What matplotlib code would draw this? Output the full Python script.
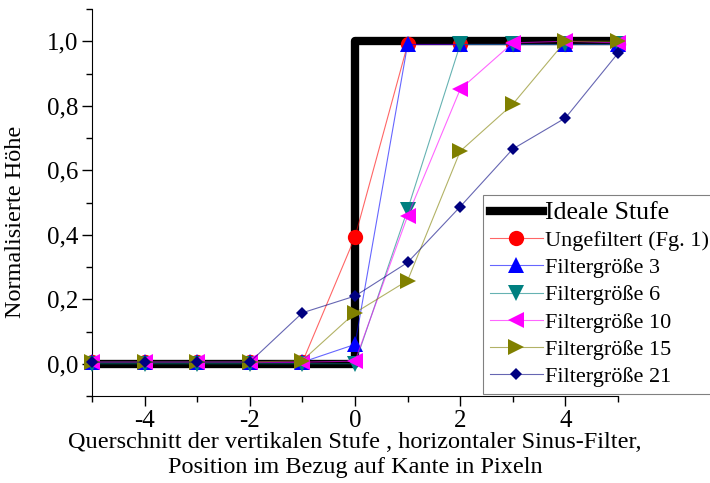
import matplotlib
matplotlib.use("Agg")
import matplotlib.pyplot as plt
from matplotlib.colors import to_rgba
from matplotlib.ticker import MultipleLocator, FuncFormatter

plt.rcParams['font.family'] = ['Liberation Serif', 'DejaVu Serif']

# Position relativ zur Kante (Pixel)
x = [-5, -4, -3, -2, -1, 0, 1, 2, 3, 4, 5]

# ideale Stufe
ideal_x = [-5, 0, 0, 5]
ideal_y = [0, 0, 1, 1]

ungefiltert = [0.005, 0.005, 0.005, 0.005, 0.005, 0.393, 0.99, 0.99, 0.99, 0.99, 0.99]
filter_3 = [0.005, 0.005, 0.005, 0.005, 0.005, 0.06, 0.99, 0.99, 0.99, 0.99, 0.99]
filter_6 = [0.0, 0.0, 0.0, 0.0, 0.0, 0.0, 0.478, 0.99, 0.99, 0.99, 0.99]
filter_10 = [0.005, 0.005, 0.005, 0.005, 0.005, 0.008, 0.458, 0.851, 0.995, 1.0, 0.995]
filter_15 = [0.005, 0.005, 0.005, 0.005, 0.01, 0.158, 0.258, 0.659, 0.805, 1.0, 1.0]
filter_21 = [0.005, 0.005, 0.005, 0.005, 0.158, 0.21, 0.314, 0.487, 0.666, 0.762, 0.963]

serien = [
    (ungefiltert, 'Ungefiltert (Fg. 1)', 'red', 'o', 11),
    (filter_3, 'Filtergröße 3', 'blue', '^', 12),
    (filter_6, 'Filtergröße 6', '#008080', 'v', 12),
    (filter_10, 'Filtergröße 10', 'magenta', '<', 12),
    (filter_15, 'Filtergröße 15', '#808000', '>', 12),
    (filter_21, 'Filtergröße 21', '#000080', 'D', 6),
]

fig = plt.figure(figsize=(7.10, 4.83), dpi=100)
ax = fig.add_axes([92 / 710, 1 - 396 / 483, 526 / 710, 387 / 483])

ax.plot(ideal_x, ideal_y, color='black', lw=6, solid_joinstyle='round',
        label='Ideale Stufe', clip_on=False, zorder=2)

for werte, name, farbe, marker, ms in serien:
    # dünne, etwas hellere Linie, Marker voll deckend
    ax.plot(x, werte, color=to_rgba(farbe, 0.6), lw=0.8, marker=marker, ms=ms,
            markerfacecolor=farbe, markeredgewidth=0, label=name,
            clip_on=False, zorder=3)

ax.set_xlim(-5, 5)
ax.set_ylim(-0.1, 1.1)

ax.spines['top'].set_visible(False)
ax.spines['right'].set_visible(False)

ax.xaxis.set_major_locator(MultipleLocator(2))
ax.xaxis.set_minor_locator(MultipleLocator(1))
ax.yaxis.set_major_locator(MultipleLocator(0.2))
ax.yaxis.set_minor_locator(MultipleLocator(0.1))
ax.tick_params(which='major', direction='out', length=7, width=1, labelsize=18, pad=3)
ax.tick_params(which='minor', direction='out', length=4, width=1)

ax.xaxis.set_major_formatter(FuncFormatter(lambda v, p: f'{v:.0f}'.replace('\u2212', '-')))
ax.yaxis.set_major_formatter(FuncFormatter(lambda v, p: f'{v:.1f}'.replace('.', ',').replace('-0,0', '0,0')))

ax.set_xlabel('Querschnitt der vertikalen Stufe , horizontaler Sinus-Filter,\n'
              'Position im Bezug auf Kante in Pixeln', fontsize=17.5, linespacing=1.25, labelpad=0)
ax.set_ylabel('Normalisierte Höhe', fontsize=17.5)
ax.yaxis.set_label_coords(-0.125, 0.45)

leg = ax.legend(loc='upper left', bbox_to_anchor=(483 / 710, 1 - 195 / 483),
                bbox_transform=fig.transFigure, fontsize=16, frameon=True,
                fancybox=False, edgecolor='gray', framealpha=1,
                handlelength=2.4, handletextpad=0.1, labelspacing=0.3,
                borderpad=0.3, borderaxespad=0)
leg.get_frame().set_linewidth(0.8)
leg.get_texts()[0].set_fontsize(18.5)

fig.savefig('out.png', dpi=100)
